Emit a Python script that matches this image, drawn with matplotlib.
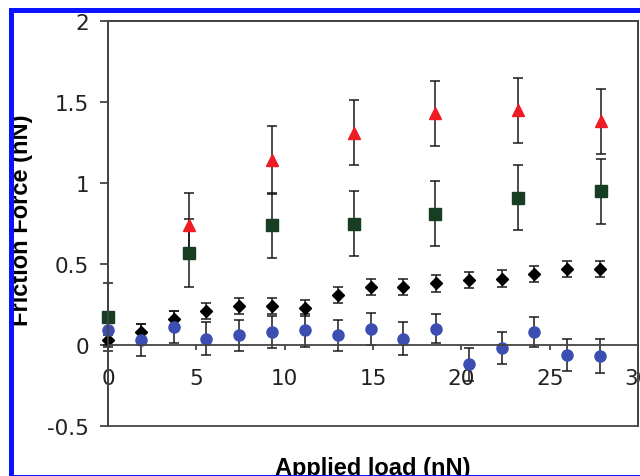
import matplotlib
matplotlib.use("Agg")
import matplotlib.pyplot as plt
from matplotlib.patches import Rectangle

# ---- data ----
x_tri = [4.6, 9.3, 13.9, 18.5, 23.2, 27.9]
y_tri = [0.74, 1.14, 1.31, 1.43, 1.45, 1.38]
e_tri = [0.20, 0.21, 0.20, 0.20, 0.20, 0.20]

x_sq = [0.0, 4.6, 9.3, 13.9, 18.5, 23.2, 27.9]
y_sq = [0.17, 0.57, 0.74, 0.75, 0.81, 0.91, 0.95]
e_sq = [0.21, 0.21, 0.20, 0.20, 0.20, 0.20, 0.20]

x_dia = [0.0, 1.86, 3.71, 5.57, 7.43, 9.29, 11.14, 13.0, 14.86, 16.71,
         18.57, 20.43, 22.29, 24.14, 26.0, 27.86]
y_dia = [0.03, 0.08, 0.16, 0.21, 0.24, 0.24, 0.23, 0.31, 0.36, 0.36,
         0.38, 0.40, 0.41, 0.44, 0.47, 0.47]
e_dia = [0.03, 0.05, 0.05, 0.05, 0.05, 0.05, 0.05, 0.05, 0.05, 0.05,
         0.05, 0.05, 0.05, 0.05, 0.05, 0.05]

x_cir = [0.0, 1.86, 3.71, 5.57, 7.43, 9.29, 11.14, 13.0, 14.86, 16.71,
         18.57, 20.43, 22.29, 24.14, 26.0, 27.86]
y_cir = [0.09, 0.03, 0.11, 0.04, 0.06, 0.08, 0.09, 0.06, 0.10, 0.04,
         0.10, -0.12, -0.02, 0.08, -0.06, -0.07]
e_cir = [0.10, 0.10, 0.10, 0.10, 0.095, 0.10, 0.10, 0.095, 0.10, 0.10,
         0.09, 0.10, 0.10, 0.09, 0.10, 0.105]

xticks = [0, 5, 10, 15, 20, 25, 30]
yticks = [-0.5, 0, 0.5, 1, 1.5, 2]
yticklabels = ["-0.5", "0", "0.5", "1", "1.5", "2"]

# ---- figure ----
fig = plt.figure(figsize=(6.4, 4.77), dpi=100)
ax = fig.add_axes([108/640, 1-427/477, (638-108)/640, (427-22)/477])

ebkw = dict(ecolor="#1a1a1a", elinewidth=1.1, capsize=3.6, capthick=1.1,
            linestyle="none")
conts = []
conts.append(ax.errorbar(x_tri, y_tri, yerr=e_tri, marker="^", ms=9,
                         color="#ee1c24", mec="#ee1c24", **ebkw))
conts.append(ax.errorbar(x_sq, y_sq, yerr=e_sq, marker="s", ms=8,
                         color="#173d22", mec="#173d22", **ebkw))
conts.append(ax.errorbar(x_dia, y_dia, yerr=e_dia, marker="D", ms=5.8,
                         color="black", mec="black", **ebkw))
conts.append(ax.errorbar(x_cir, y_cir, yerr=e_cir, marker="o", ms=8,
                         color="#3d4eb3", mec="#3d4eb3", **ebkw))
for c in conts:
    for art in c.get_children():
        art.set_clip_on(False)

ax.set_xlim(0, 30)
ax.set_ylim(-0.5, 2)

spine_c = "#444444"
for s in ax.spines.values():
    s.set_color(spine_c)
    s.set_linewidth(1.3)
ax.spines["bottom"].set_position(("data", 0))
ax.add_patch(Rectangle((0, 0), 1, 1, transform=ax.transAxes, fill=False,
                       edgecolor=spine_c, linewidth=1.3, clip_on=False,
                       zorder=0.5))

ax.set_xticks(xticks)
ax.set_xticklabels([str(t) for t in xticks])
ax.set_yticks(yticks)
ax.set_yticklabels(yticklabels)
ax.tick_params(axis="x", direction="out", length=3.6, width=1.3,
               color=spine_c, pad=13, labelsize=15.5)
ax.tick_params(axis="y", direction="out", length=5.8, width=1.3,
               color=spine_c, pad=8, labelsize=15.5)
for lab in ax.get_xticklabels() + ax.get_yticklabels():
    lab.set_fontfamily("DejaVu Sans")
    lab.set_color("#222222")

ax.set_xlabel("Applied load (nN)", fontfamily="Liberation Sans",
              fontweight="bold", fontsize=17, va="baseline")
ax.xaxis.set_label_coords(0.5, (427-475)/405)
ax.set_ylabel("Friction Force (nN)", fontfamily="Liberation Sans",
              fontweight="bold", fontsize=17, va="center")
ax.yaxis.set_label_coords((22-108)/530, (427-220)/405)

# blue frame around the picture
fig.patches.append(Rectangle((11/640, 1-477.5/477), 2.0, (477.5-10.5)/477,
                             transform=fig.transFigure, fill=False,
                             edgecolor="#0a14ff", linewidth=3.6,
                             clip_on=False, zorder=10))

fig.savefig("out.png", dpi=100)
